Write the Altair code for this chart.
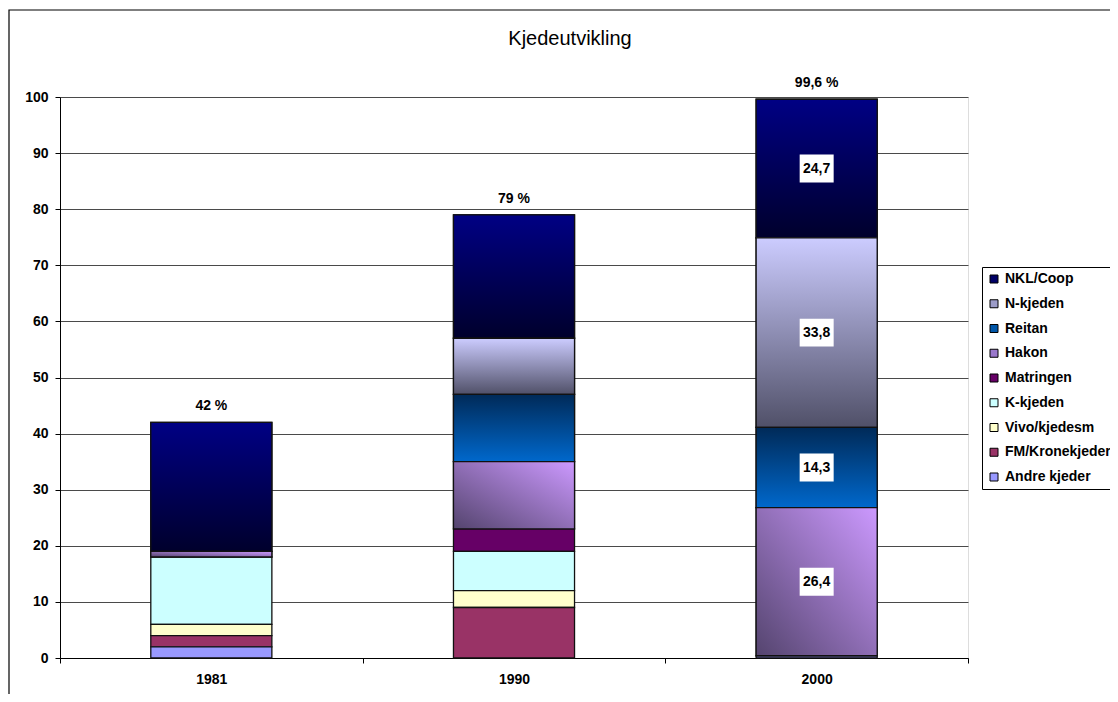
import altair as alt
import pandas as pd

# ---- data ----
years = ["1981", "1990", "2000"]
chains = ["NKL/Coop", "N-kjeden", "Reitan", "Hakon", "Matringen",
          "K-kjeden", "Vivo/kjedesm", "FM/Kronekjeder", "Andre kjeder"]
nkl_coop = [23.0, 22.0, 24.7]
n_kjeden = [0.0, 10.0, 33.8]
reitan = [0.0, 12.0, 14.3]
hakon = [1.0, 12.0, 26.4]
matringen = [0.0, 4.0, 0.0]
k_kjeden = [12.0, 7.0, 0.0]
vivo = [2.0, 3.0, 0.0]
fm_krone = [2.0, 9.0, 0.0]
andre = [2.0, 0.0, 0.4]

series = [nkl_coop, n_kjeden, reitan, hakon, matringen, k_kjeden, vivo, fm_krone, andre]
solid_colors = ["#000066", "#9c9cc8", "#0056a8", "#9a78cc", "#660066",
                "#ccffff", "#ffffcc", "#993366", "#9999ff"]

rows = []
for i, (name, vals) in enumerate(zip(chains, series)):
    for y, v in zip(years, vals):
        rows.append({"year": y, "chain": name, "value": v, "ord": len(chains) - i})
df = pd.DataFrame(rows)

FONT = "Liberation Sans"


def grad(c0, c1, x1=0, y1=0, x2=0, y2=1):
    return {"gradient": "linear", "x1": x1, "y1": y1, "x2": x2, "y2": y2,
            "stops": [{"offset": 0, "color": c0}, {"offset": 1, "color": c1}]}


gradients = {
    "NKL/Coop": grad("#000084", "#00002c"),
    "N-kjeden": grad("#ccccff", "#505068"),
    "Reitan": grad("#002a58", "#0068cc"),
    "Hakon": grad("#54446e", "#cc99ff", x1=0, y1=1, x2=1, y2=0),
}

base = alt.Chart(df).transform_filter("datum.value > 0").transform_stack(
    stack="value", groupby=["year"], as_=["y0", "y1"],
    sort=[alt.SortField("ord", order="ascending")],
)

x_main = alt.X(
    "year:N",
    scale=alt.Scale(domain=years, paddingInner=0, paddingOuter=0),
    axis=alt.Axis(title=None, labelAngle=0, tickBand="extent", tickSize=5,
                  tickColor="black", domainColor="black", labelFont=FONT,
                  labelFontWeight="bold", labelFontSize=14, labelColor="black",
                  labelPadding=9, grid=False),
)
y_main = alt.Y(
    "y0:Q",
    scale=alt.Scale(domain=[0, 100], nice=False),
    axis=alt.Axis(title=None, values=list(range(0, 101, 10)), tickSize=5,
                  tickColor="black", domainColor="black", labelFont=FONT,
                  labelFontWeight="bold", labelFontSize=14, labelColor="black",
                  labelPadding=7, grid=True, gridColor="#4a4a4a", gridWidth=1),
)

bar_w = alt.RelativeBandSize(0.4)

bars = base.mark_bar(width=bar_w, stroke="#111111", strokeWidth=1.3).encode(
    x=x_main,
    y=y_main,
    y2="y1:Q",
    color=alt.Color(
        "chain:N",
        scale=alt.Scale(domain=chains, range=solid_colors),
        legend=alt.Legend(
            orient="none", legendX=922, legendY=170, title=None,
            labelFont=FONT, labelFontSize=14, labelFontWeight="bold",
            labelColor="black", symbolType="square", symbolSize=64,
            symbolStrokeColor="black", symbolStrokeWidth=1,
            strokeColor="black", fillColor="white", padding=5,
            rowPadding=10.75, labelOffset=4, labelLimit=300,
        ),
    ),
)

grad_layers = []
for name, g in gradients.items():
    grad_layers.append(
        base.transform_filter(alt.datum.chain == name)
        .mark_bar(width=bar_w, fill=g, stroke="#111111", strokeWidth=1.3)
        .encode(x="year:N", y="y0:Q", y2="y1:Q")
    )

inside = base.transform_filter("datum.year == '2000' && datum.value > 5").transform_calculate(
    mid="(datum.y0 + datum.y1) / 2",
    lab="replace(format(datum.value, '.1f'), '.', ',')",
)
boxes = inside.mark_point(
    shape="M-1,-0.82H1V0.82H-1Z", size=1156, filled=True, fill="white",
    opacity=1, strokeWidth=0,
).encode(x="year:N", y="mid:Q")
inside_text = inside.mark_text(
    font=FONT, fontSize=14, fontWeight="bold", color="black", baseline="middle"
).encode(x="year:N", y="mid:Q", text="lab:N")

totals = alt.Chart(df).transform_aggregate(
    total="sum(value)", groupby=["year"]
).transform_calculate(
    lab="replace(format(datum.total, '.3~r'), '.', ',') + ' %'"
).mark_text(
    font=FONT, fontSize=14, fontWeight="bold", color="black", baseline="bottom", dy=-9
).encode(x="year:N", y="total:Q", text="lab:N")

border = alt.Chart(alt.Data(values=[{"a": 1}])).mark_rect(
    fillOpacity=0, stroke="black", strokeWidth=1.2
).encode(x=alt.value(-51), y=alt.value(-87), x2=alt.value(1300), y2=alt.value(900))

chart = alt.layer(border, bars, *grad_layers, boxes, inside_text, totals).properties(
    width=908,
    height=561,
    autosize=alt.AutoSizeParams(type="none"),
    padding={"left": 52, "top": 89, "right": 142, "bottom": 36},
    title=alt.TitleParams("Kjedeutvikling", font=FONT, fontSize=20, fontWeight="normal",
                          color="black", anchor="middle", frame="group", dx=56,
                          offset=0, dy=56, baseline="alphabetic"),
).configure_view(stroke="#a0a0a0", strokeWidth=1).configure(background="white")

chart.save("out.html", embed_options={"renderer": "svg", "actions": False})
